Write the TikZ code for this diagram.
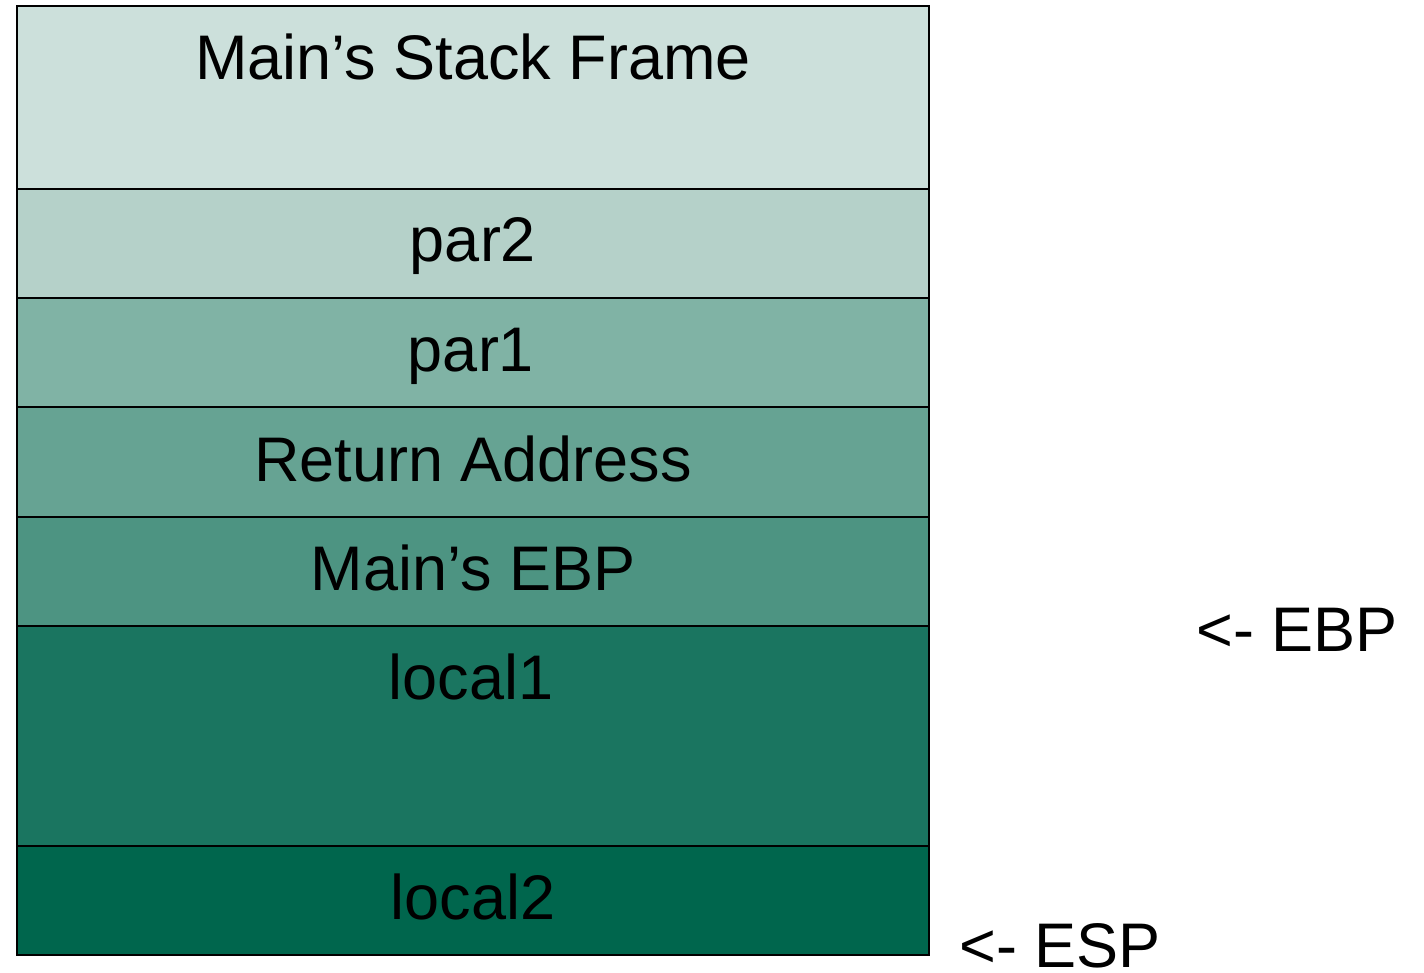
\documentclass[tikz,border=0pt]{standalone}
\usepackage{fontspec}
\setmainfont{Liberation Sans}
\definecolor{c1}{HTML}{CCE0DB}
\definecolor{c2}{HTML}{B5D1C9}
\definecolor{c3}{HTML}{80B3A5}
\definecolor{c4}{HTML}{66A393}
\definecolor{c5}{HTML}{4D9482}
\definecolor{c6}{HTML}{1A7560}
\definecolor{c7}{HTML}{00664D}
\tikzset{
  rowbox/.style={draw=black, line width=1.6pt, anchor=north west, minimum width=912pt, inner sep=0pt, outer sep=0pt},
  lbl/.style={anchor=base, inner sep=0pt, font=\fontsize{63pt}{70pt}\selectfont, text=black}
}
\begin{document}
\begin{tikzpicture}[x=1pt,y=-1pt]
\useasboundingbox (0,0) rectangle (1424,972);
\node[rowbox, fill=c1, minimum height=183pt] (r1) at (17,6) {};
\node[rowbox, fill=c2, minimum height=109pt] (r2) at (17,189) {};
\node[rowbox, fill=c3, minimum height=109pt] (r3) at (17,298) {};
\node[rowbox, fill=c4, minimum height=110pt] (r4) at (17,407) {};
\node[rowbox, fill=c5, minimum height=109pt] (r5) at (17,517) {};
\node[rowbox, fill=c6, minimum height=220pt] (r6) at (17,626) {};
\node[rowbox, fill=c7, minimum height=109pt] (r7) at (17,846) {};
\node[lbl] (t1) at (473,79) {Main’s Stack Frame};
\node[lbl] (t2) at (473,261) {par2};
\node[lbl] (t3) at (471,371) {par1};
\node[lbl] (t4) at (473,481) {Return Address};
\node[lbl] (t5) at (473,590) {Main’s EBP};
\node[lbl] (t6) at (471,699) {local1};
\node[lbl] (t7) at (473,919) {local2};
\node[lbl, anchor=base west] (ebp) at (1196,651) {<- EBP};
\node[lbl, anchor=base west] (esp) at (959,967) {<- ESP};
\end{tikzpicture}
\end{document}
